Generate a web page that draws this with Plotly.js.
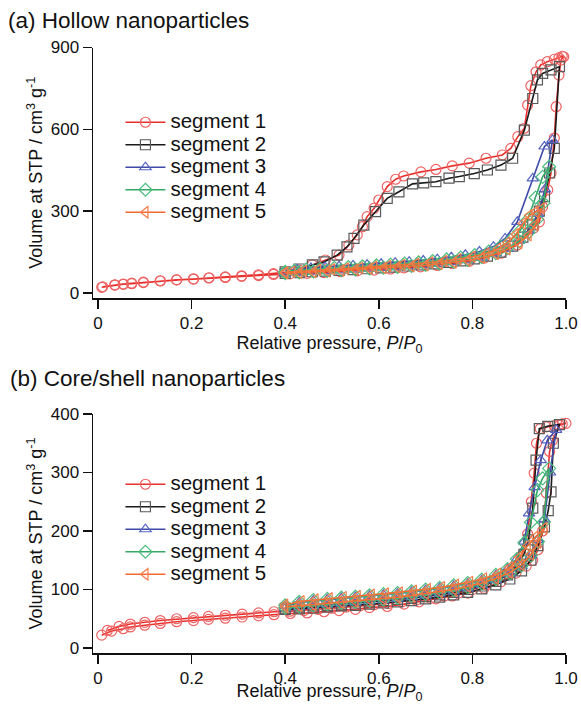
<!DOCTYPE html>
<html>
<head>
<meta charset="utf-8">
<script src="https://cdn.plot.ly/plotly-3.0.1.min.js"></script>
<style>html,body{margin:0;padding:0;background:#fff;}#chart{width:581px;height:704px;}</style>
</head>
<body>
<div id="chart"></div>
<script>
// ---------- DATA ----------
const segmentNames = ['segment 1','segment 2','segment 3','segment 4','segment 5'];
const xTickVals = [0,0.2,0.4,0.6,0.8,1.0];
const xTickText = ['0','0.2','0.4','0.6','0.8','1.0'];
const hollowYTicks = [0,300,600,900];
const coreYTicks = [0,100,200,300,400];

// (a) Hollow nanoparticles
const hollowS1AdsX = [0.008,0.036,0.054,0.072,0.097,0.133,0.168,0.204,0.237,0.272,0.307,0.343,0.375,0.410,0.447,0.482,0.518,0.554,0.590,0.625,0.654,0.689,0.725,0.757,0.793,0.825,0.861,0.896,0.918,0.931,0.943,0.950,0.961,0.968,0.975,0.979,0.985,0.989,0.995];
const hollowS1AdsY = [21,29,32,34,38,44,48,51,55,57,61,64,68,70,72,75,78,81,84,88,92,96,101,108,116,128,146,176,219,238,261,316,378,440,568,683,799,854,866];
const hollowS1DesX = [0.992,0.985,0.975,0.960,0.946,0.936,0.925,0.918,0.911,0.897,0.882,0.864,0.829,0.793,0.757,0.722,0.690,0.653,0.636,0.618,0.600,0.590,0.575,0.565,0.554,0.536,0.515,0.486,0.458,0.430,0.400,0.375,0.343,0.307,0.272,0.237,0.204,0.168,0.133,0.097,0.072,0.054,0.036,0.010];
const hollowS1DesY = [868,862,857,848,836,811,760,689,604,573,530,506,494,476,466,453,444,429,417,390,341,311,280,243,213,176,139,121,103,84,76,71,67,63,59,56,52,48,45,40,36,33,30,23];

const hollowS2AdsX = [0.400,0.430,0.458,0.486,0.515,0.545,0.575,0.604,0.632,0.661,0.690,0.718,0.747,0.775,0.804,0.832,0.861,0.886,0.908,0.929,0.943,0.954,0.965,0.975,0.986];
const hollowS2AdsY = [72,75,78,80,83,86,89,92,95,99,103,107,112,118,125,135,150,172,205,250,300,353,440,530,830];
const hollowS2DesX = [0.968,0.950,0.939,0.929,0.911,0.886,0.861,0.832,0.804,0.772,0.750,0.722,0.696,0.672,0.643,0.618,0.593,0.568,0.547,0.532,0.511,0.483,0.458,0.430,0.400];
const hollowS2DesY = [818,805,781,713,597,494,469,451,438,427,421,408,404,400,371,347,298,249,200,169,139,114,103,88,78];

const hollowS3AdsX = [0.400,0.430,0.460,0.490,0.520,0.550,0.580,0.610,0.640,0.670,0.700,0.730,0.760,0.790,0.820,0.850,0.875,0.900,0.920,0.940,0.955,0.971];
const hollowS3AdsY = [72,75,78,80,83,86,89,92,95,98,102,107,113,120,130,145,163,192,228,290,380,561];
const hollowS3DesX = [0.954,0.929,0.896,0.870,0.845,0.815,0.785,0.755,0.725,0.695,0.665,0.635,0.605,0.575,0.545,0.515,0.485,0.455,0.425,0.400];
const hollowS3DesY = [537,420,261,200,170,152,140,131,124,119,115,111,107,104,101,98,95,92,86,79];

const hollowS4AdsX = [0.400,0.430,0.460,0.490,0.520,0.550,0.580,0.610,0.640,0.670,0.700,0.730,0.760,0.790,0.820,0.850,0.875,0.900,0.920,0.938,0.952,0.964];
const hollowS4AdsY = [73,76,79,81,84,87,90,93,96,99,103,108,114,121,131,146,164,190,222,270,330,463];
const hollowS4DesX = [0.950,0.935,0.918,0.900,0.882,0.860,0.835,0.805,0.775,0.745,0.715,0.685,0.655,0.625,0.595,0.565,0.535,0.505,0.475,0.445,0.420,0.400];
const hollowS4DesY = [426,350,268,225,194,170,152,139,130,123,117,112,108,104,101,98,95,92,89,86,82,78];

const hollowS5AdsX = [0.400,0.430,0.460,0.490,0.520,0.550,0.580,0.610,0.640,0.670,0.700,0.730,0.760,0.790,0.820,0.850,0.875,0.900,0.920,0.935,0.948];
const hollowS5AdsY = [72,74,77,80,83,86,89,92,95,98,102,107,112,119,129,143,160,183,212,250,310];
const hollowS5DesX = [0.935,0.922,0.908,0.893,0.875,0.855,0.830,0.800,0.770,0.740,0.710,0.680,0.650,0.620,0.590,0.560,0.530,0.500,0.470,0.440,0.415,0.400];
const hollowS5DesY = [298,285,255,215,185,162,145,133,124,117,112,107,103,99,96,93,90,87,84,81,78,76];

// (b) Core/shell nanoparticles
const coreS1AdsX = [0.008,0.029,0.054,0.069,0.100,0.133,0.168,0.204,0.236,0.272,0.308,0.343,0.376,0.411,0.447,0.483,0.515,0.550,0.580,0.618,0.654,0.686,0.722,0.757,0.790,0.825,0.861,0.893,0.915,0.929,0.940,0.950,0.958,0.965,0.971,0.986,1.0];
const coreS1AdsY = [22,29,33,36,39,42,45,47,49,51,53,55,57,59,60,62,64,66,69,71,75,79,84,89,94,102,113,128,140,150,168,200,265,336,355,381,384];
const coreS1DesX = [0.992,0.975,0.958,0.945,0.937,0.932,0.926,0.918,0.905,0.885,0.860,0.830,0.800,0.770,0.740,0.710,0.680,0.650,0.620,0.590,0.560,0.530,0.500,0.470,0.440,0.410,0.376,0.343,0.308,0.272,0.236,0.204,0.168,0.133,0.100,0.069,0.045,0.020];
const coreS1DesY = [383,380,378,375,350,299,250,195,158,135,120,108,100,94,89,85,82,79,76,74,72,70,68,66,64,63,62,60,58,56,54,52,50,47,44,41,37,30];

const coreS2AdsX = [0.400,0.430,0.460,0.490,0.520,0.550,0.580,0.610,0.640,0.670,0.700,0.730,0.760,0.790,0.820,0.850,0.880,0.905,0.925,0.940,0.954,0.962,0.968,0.973,0.986];
const coreS2AdsY = [66,67,68,70,72,73,75,77,79,81,84,87,91,95,101,108,118,132,150,175,207,235,267,350,382];
const coreS2DesX = [0.961,0.943,0.936,0.929,0.920,0.910,0.895,0.875,0.850,0.820,0.790,0.760,0.730,0.700,0.670,0.640,0.610,0.580,0.550,0.520,0.490,0.460,0.430,0.400];
const coreS2DesY = [379,375,321,239,185,160,140,125,114,106,100,95,91,88,85,83,81,79,77,75,73,72,70,68];

const coreS3AdsX = [0.400,0.430,0.460,0.490,0.520,0.550,0.580,0.610,0.640,0.670,0.700,0.730,0.760,0.790,0.820,0.850,0.880,0.905,0.925,0.940,0.954,0.966,0.979];
const coreS3AdsY = [68,70,72,74,76,78,80,82,84,87,90,93,97,102,108,116,127,140,158,185,220,300,373];
const coreS3DesX = [0.960,0.946,0.933,0.921,0.911,0.895,0.875,0.850,0.820,0.790,0.760,0.730,0.700,0.670,0.640,0.610,0.580,0.550,0.520,0.490,0.460,0.430,0.400];
const coreS3DesY = [355,321,275,230,182,152,135,124,116,110,106,102,99,96,93,91,89,87,85,83,81,78,72];

const coreS4AdsX = [0.400,0.430,0.460,0.490,0.520,0.550,0.580,0.610,0.640,0.670,0.700,0.730,0.760,0.790,0.820,0.850,0.880,0.905,0.925,0.940,0.952,0.964];
const coreS4AdsY = [69,71,73,75,77,79,81,83,86,89,92,95,99,104,110,118,128,141,158,182,215,307];
const coreS4DesX = [0.950,0.939,0.925,0.911,0.895,0.875,0.850,0.820,0.790,0.760,0.730,0.700,0.670,0.640,0.610,0.580,0.550,0.520,0.490,0.460,0.430,0.400];
const coreS4DesY = [290,270,215,180,152,135,125,117,111,107,103,100,97,94,92,90,88,86,84,82,79,73];

const coreS5AdsX = [0.400,0.430,0.460,0.490,0.520,0.550,0.580,0.610,0.640,0.670,0.700,0.730,0.760,0.790,0.820,0.850,0.880,0.905,0.925,0.940,0.954];
const coreS5AdsY = [70,72,74,76,78,80,82,84,87,90,93,96,100,105,111,119,129,142,160,180,205];
const coreS5DesX = [0.935,0.918,0.900,0.880,0.855,0.825,0.795,0.765,0.735,0.705,0.675,0.645,0.615,0.585,0.555,0.525,0.495,0.465,0.435,0.400];
const coreS5DesY = [190,175,155,138,127,119,113,108,104,101,98,95,93,91,89,87,85,83,80,74];

// ---------- STYLE ----------
const lineColors = ['#e8302c','#1a1a1a','#3d4aa8','#35a866','#f06a32'];
const markerColors = ['#ef6262','#5a5a5a','#5663c2','#4dbd7f','#f47c48'];
const symbols = ['circle-open','square-open','triangle-up-open','diamond-open','triangle-left-open'];
const FONT = 'Arial, "Liberation Sans", Helvetica, sans-serif';

const hollow = [
  [hollowS1AdsX, hollowS1AdsY, hollowS1DesX, hollowS1DesY],
  [hollowS2AdsX, hollowS2AdsY, hollowS2DesX, hollowS2DesY],
  [hollowS3AdsX, hollowS3AdsY, hollowS3DesX, hollowS3DesY],
  [hollowS4AdsX, hollowS4AdsY, hollowS4DesX, hollowS4DesY],
  [hollowS5AdsX, hollowS5AdsY, hollowS5DesX, hollowS5DesY]
];
const core = [
  [coreS1AdsX, coreS1AdsY, coreS1DesX, coreS1DesY],
  [coreS2AdsX, coreS2AdsY, coreS2DesX, coreS2DesY],
  [coreS3AdsX, coreS3AdsY, coreS3DesX, coreS3DesY],
  [coreS4AdsX, coreS4AdsY, coreS4DesX, coreS4DesY],
  [coreS5AdsX, coreS5AdsY, coreS5DesX, coreS5DesY]
];

function makeTraces(set, xa, ya, legendId) {
  return [0,1,2,3,4].map(i => ({
    type: 'scatter', mode: 'lines+markers',
    name: '<span style="font-size:20.5px">' + segmentNames[i] + '</span>',
    x: set[i][0].concat(set[i][2]),
    y: set[i][1].concat(set[i][3]),
    xaxis: xa, yaxis: ya, legend: legendId,
    line: {color: lineColors[i], width: 1.6},
    marker: {symbol: symbols[i], size: 10, color: markerColors[i], line: {width: 1.2, color: markerColors[i]}},
    cliponaxis: false
  }));
}

const traces = makeTraces(hollow, 'x', 'y', 'legend').concat(makeTraces(core, 'x2', 'y2', 'legend2'));

const axisCommon = {
  showline: true, linewidth: 1.5, linecolor: '#111',
  ticks: 'outside', ticklen: 9, tickwidth: 1.5, tickcolor: '#111',
  showgrid: false, zeroline: false, automargin: false,
  tickfont: {family: FONT, size: 17, color: '#111'}
};
const xTitleText = 'Relative pressure, <i>P</i>/<i>P</i><sub>0</sub>';
const xTitleFont = {family: FONT, size: 18, color: '#111'};
const yTitle = {text: 'Volume at STP / cm<sup>3</sup> g<sup>-1</sup>', font: {family: FONT, size: 18, color: '#111'}, standoff: 3};

const legendCommon = {xanchor: 'left', yanchor: 'top', bgcolor: 'rgba(0,0,0,0)',
  font: {family: FONT, size: 15, color: '#111'}, itemwidth: 40};

const layout = {
  width: 581, height: 704,
  margin: {l: 93, r: 15, t: 0, b: 0},
  paper_bgcolor: '#fff', plot_bgcolor: '#fff',
  font: {family: FONT, color: '#111'},
  title: {text: '(a) Hollow nanoparticles', x: 8/581, xanchor: 'left', xref: 'container',
          y: 1 - 20/704, yanchor: 'middle', yref: 'container', font: {family: FONT, size: 22.5, color: '#111'}},
  xaxis: Object.assign({}, axisCommon, {domain: [0,1], anchor: 'y', range: [-0.0107, 1.0],
          tickvals: xTickVals, ticktext: xTickText, title: {text: xTitleText, font: xTitleFont, standoff: 1}}),
  yaxis: Object.assign({}, axisCommon, {domain: [1-298/704, 1-47.5/704], anchor: 'x', range: [-18.3, 900],
          tickvals: hollowYTicks, title: yTitle}),
  xaxis2: Object.assign({}, axisCommon, {domain: [0,1], anchor: 'y2', range: [-0.0107, 1.0],
          tickvals: xTickVals, ticktext: xTickText, title: {text: xTitleText, font: xTitleFont, standoff: 4}}),
  yaxis2: Object.assign({}, axisCommon, {domain: [1-653/704, 1-414/704], anchor: 'x2', range: [-8.5, 400],
          tickvals: coreYTicks, title: yTitle}),
  showlegend: true,
  legend: Object.assign({}, legendCommon, {x: 0.058, y: 1-106/704}),
  legend2: Object.assign({}, legendCommon, {x: 0.058, y: 1-468/704}),
  annotations: [{text: '(b) Core/shell nanoparticles', xref: 'paper', yref: 'paper',
                 x: (8-93)/473, y: 1-378/704, xanchor: 'left', yanchor: 'middle', showarrow: false,
                 font: {family: FONT, size: 22.5, color: '#111'}}]
};

Plotly.newPlot('chart', traces, layout, {displayModeBar: false, staticPlot: true});
</script>
</body>
</html>
